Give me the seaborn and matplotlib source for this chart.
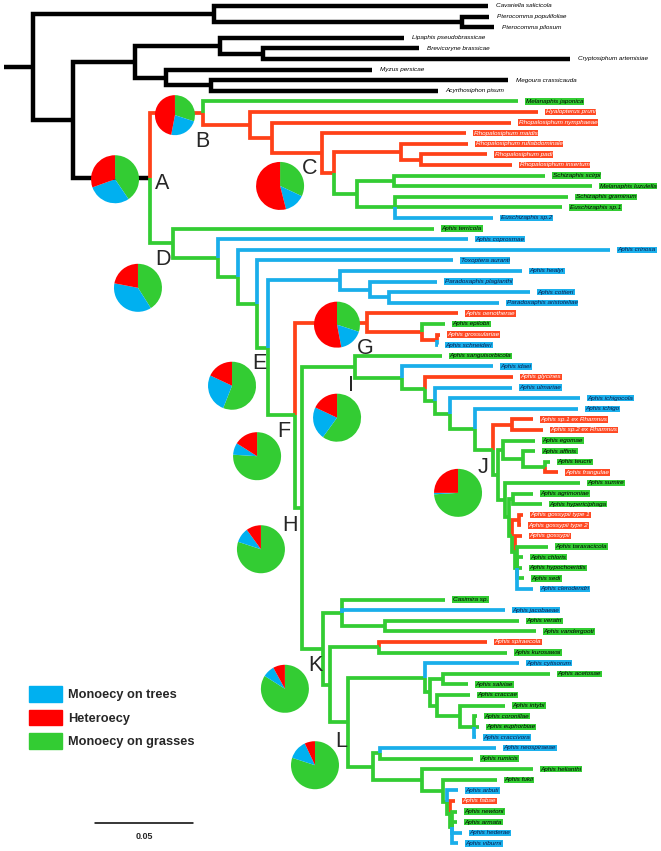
import matplotlib
matplotlib.use("Agg")
import matplotlib.pyplot as plt
from matplotlib.patches import Patch
import pandas as pd
import seaborn as sns

sns.set_theme(style="white")
plt.rcParams["font.family"] = ["Liberation Sans", "DejaVu Sans"]

# ---- tips, top to bottom ----
tip_names = [
    "Cavariella salicicola", "Pterocomma populifoliae", "Pterocomma pilosum",
    "Lipaphis pseudobrassicae", "Brevicoryne brassicae", "Cryptosiphum artemisiae",
    "Myzus persicae", "Megoura crassicauda", "Acyrthosiphon pisum",
    "Melanaphis japonica", "Hyalopterus pruni", "Rhopalosiphum nymphaeae",
    "Rhopalosiphum maidis", "Rhopalosiphum rufiabdominale", "Rhopalosiphum padi",
    "Rhopalosiphum insertum", "Schizaphis scirpi", "Melanaphis luzulella",
    "Schizaphis graminum", "Euschizaphis sp.1", "Euschizaphis sp.2",
    "Aphis terricola", "Aphis coprosmae", "Aphis crinosa", "Toxoptera auranti",
    "Aphis healyi", "Paradoxaphis plagianthi", "Aphis cottieri", "Paradoxaphis aristoteliae",
    "Aphis oenotherae", "Aphis epilobii", "Aphis grossulariae", "Aphis schneideri",
    "Aphis sanguisorbicola", "Aphis idaei", "Aphis glycines", "Aphis ulmariae",
    "Aphis ichigocola", "Aphis ichigo", "Aphis sp.1 ex Rhamnus", "Aphis sp.2 ex Rhamnus",
    "Aphis egomae", "Aphis affinis", "Aphis teucrii", "Aphis frangulae", "Aphis sumire",
    "Aphis agrimoniae", "Aphis hypericiphaga", "Aphis gossypii type 1", "Aphis gossypii type 2",
    "Aphis gossypii", "Aphis taraxacicola", "Aphis chloris", "Aphis hypochoeridis", "Aphis sedi",
    "Aphis clerodendri", "Casimira sp.", "Aphis jacobaeae", "Aphis veratri", "Aphis vandergooti",
    "Aphis spiraecola", "Aphis kurosawai", "Aphis cytisorum", "Aphis acetosae", "Aphis salviae",
    "Aphis craccae", "Aphis intybi", "Aphis coronillae", "Aphis euphorbiae", "Aphis craccivora",
    "Aphis neospiraeae", "Aphis rumicis", "Aphis helianthi", "Aphis fukii", "Aphis arbuti",
    "Aphis fabae", "Aphis newtoni", "Aphis armata", "Aphis hederae", "Aphis viburni",
]

# distance from root (units of 0.001 subst./site)
tip_depth = [
    246.4, 246.9, 249.5, 203.6, 211.2, 288.3, 187.2, 256.6, 220.9,
    261.7, 271.9, 258.2, 235.2, 236.2, 245.9, 258.7, 275.5, 299.5, 287.2, 284.2, 249.0,
    218.9, 236.2, 308.7, 228.6, 263.8, 220.4, 267.9, 252.0,
    231.1, 224.5, 221.9, 220.9,
    223.0, 249.0, 259.2, 258.7, 293.4, 292.3, 269.4, 274.5,
    270.4, 270.4, 278.1, 282.1, 293.4,
    269.4, 274.0, 264.3, 263.3, 263.8,
    277.0, 264.3, 263.8, 264.8, 269.4,
    224.5, 255.1, 262.2, 270.9,
    245.9, 256.1, 262.2, 278.1, 236.2,
    237.2, 255.1, 240.8, 241.8, 240.3,
    250.5, 238.8, 269.4, 251.0, 231.1,
    229.6, 230.6, 230.6, 233.2, 231.1,
]

# k = outgroup, g = monoecy on grasses, b = monoecy on trees, r = heteroecy
tip_state = (
    ["k"] * 9
    + ["g", "r", "r", "r", "r", "r", "r", "g", "g", "g", "g", "b"]
    + ["g", "b", "b", "b", "b", "b", "b", "b"]
    + ["r", "g", "r", "b"]
    + ["g", "b", "r", "b", "b", "b", "r", "r"]
    + ["g", "g", "g", "r", "g"]
    + ["g", "g", "r", "r", "r"]
    + ["g", "g", "g", "g", "b"]
    + ["g", "b", "g", "g"]
    + ["r", "g", "b", "g", "g"]
    + ["g", "g", "g", "g", "b"]
    + ["b", "g", "g", "g", "b"]
    + ["r", "g", "g", "b", "b"]
)

# ---- internal nodes ----
node_names = ["root", "OG1", "Ptero", "N73", "N135", "LBC", "BC", "MMA", "MA",
              "A", "B", "R1", "R2", "R3", "C", "R4", "R5", "S1", "S2", "S3",
              "D", "D1", "D2", "D3", "E", "P1", "P2", "P3", "F", "G", "G1", "G2",
              "H", "I", "I1", "I2", "I3", "I4", "I5", "J", "J1", "J2", "J3", "J4", "J5",
              "J6", "J7", "J8", "J9", "J10", "J11", "J12",
              "K", "K1", "K2", "K3", "K4", "L", "L1", "L2", "L3", "L4", "L5", "L5b",
              "L6", "L7", "L8", "L9", "L10", "L11", "L12"]
node_depth = [14.3, 106.6, 233.2, 34.7, 66.3, 109.7, 131.6, 82.1, 105.1,
              74.0, 101.0, 125.0, 136.2, 161.7, 167.9, 202.0, 212.2, 179.6, 198.5, 199.0,
              85.7, 108.7, 118.9, 128.6, 134.2, 170.9, 186.2, 195.9, 148.0, 184.7, 212.8, 220.4,
              151.5, 178.6, 202.6, 214.3, 219.4, 227.0, 239.8, 249.0, 258.7, 251.5, 254.1, 264.3, 275.5,
              255.1, 257.1, 259.2, 258.7, 262.2, 260.2, 261.2,
              162.2, 171.9, 193.9, 165.8, 190.8, 175.0, 214.3, 216.8, 223.5, 220.4, 232.1, 239.3,
              187.8, 191.3, 212.8, 223.5, 225.5, 227.0, 228.1]
node_children = [
    ["OG1", "N73"], ["Cavariella salicicola", "Ptero"],
    ["Pterocomma populifoliae", "Pterocomma pilosum"], ["N135", "A"], ["LBC", "MMA"],
    ["Lipaphis pseudobrassicae", "BC"], ["Brevicoryne brassicae", "Cryptosiphum artemisiae"],
    ["Myzus persicae", "MA"], ["Megoura crassicauda", "Acyrthosiphon pisum"],
    ["B", "D"], ["Melanaphis japonica", "R1"], ["Hyalopterus pruni", "R2"],
    ["Rhopalosiphum nymphaeae", "R3"], ["Rhopalosiphum maidis", "C"], ["R4", "S1"],
    ["Rhopalosiphum rufiabdominale", "R5"], ["Rhopalosiphum padi", "Rhopalosiphum insertum"],
    ["S2", "S3"], ["Schizaphis scirpi", "Melanaphis luzulella"],
    ["Schizaphis graminum", "Euschizaphis sp.1", "Euschizaphis sp.2"],
    ["Aphis terricola", "D1"], ["Aphis coprosmae", "D2"], ["Aphis crinosa", "D3"],
    ["Toxoptera auranti", "E"], ["P1", "F"], ["Aphis healyi", "P2"],
    ["Paradoxaphis plagianthi", "P3"], ["Aphis cottieri", "Paradoxaphis aristoteliae"],
    ["G", "H"], ["Aphis oenotherae", "G1"], ["Aphis epilobii", "G2"],
    ["Aphis grossulariae", "Aphis schneideri"],
    ["I", "K"], ["Aphis sanguisorbicola", "I1"], ["Aphis idaei", "I2"], ["Aphis glycines", "I3"],
    ["Aphis ulmariae", "I4"], ["Aphis ichigocola", "I5"], ["Aphis ichigo", "J"], ["J1", "J2"],
    ["Aphis sp.1 ex Rhamnus", "Aphis sp.2 ex Rhamnus"], ["J3", "J6"], ["Aphis egomae", "J4"],
    ["Aphis affinis", "J5"], ["Aphis teucrii", "Aphis frangulae"],
    ["Aphis sumire", "J7"], ["J8", "J9"], ["Aphis agrimoniae", "Aphis hypericiphaga"],
    ["J10", "J11"], ["Aphis gossypii type 1", "Aphis gossypii type 2"], ["Aphis gossypii", "J12"],
    ["Aphis taraxacicola", "Aphis chloris", "Aphis hypochoeridis", "Aphis sedi", "Aphis clerodendri"],
    ["K1", "K3"], ["Casimira sp.", "Aphis jacobaeae", "K2"], ["Aphis veratri", "Aphis vandergooti"],
    ["K4", "L"], ["Aphis spiraecola", "Aphis kurosawai"], ["L1", "L6"], ["Aphis cytisorum", "L2"],
    ["L3", "L4"], ["Aphis acetosae", "Aphis salviae"], ["Aphis craccae", "L5"],
    ["Aphis intybi", "L5b"], ["Aphis coronillae", "Aphis euphorbiae", "Aphis craccivora"],
    ["L7", "L8"], ["Aphis neospiraeae", "Aphis rumicis"], ["Aphis helianthi", "L9"],
    ["Aphis fukii", "L10"], ["Aphis arbuti", "L11"], ["Aphis fabae", "L12"],
    ["Aphis newtoni", "Aphis armata", "Aphis hederae", "Aphis viburni"],
]
node_state = ["k"] * 10 + ["r"] * 7 + ["g"] * 3 + ["g"] * 5 + ["b"] * 3 + ["g"] + ["r"] * 3 \
    + ["g"] * 8 + ["r"] + ["g"] * 4 + ["g"] * 4 + ["r"] + ["g"] * 2 \
    + ["g"] * 19
root_stub_depth = -0.5

# ancestral state pies at labelled nodes
pie_nodes = ["A", "B", "C", "D", "E", "F", "G", "H", "I", "J", "K", "L"]
pie_grasses = [40.5, 30, 32, 41, 56, 76, 30, 80, 60, 74, 84, 80]
pie_trees = [29, 23, 14, 37, 26, 8, 17, 10, 22, 1, 8, 13]
pie_hetero = [30.5, 47, 54, 22, 18, 16, 53, 10, 18, 25, 8, 7]

scale_value = 50  # = 0.05

# layout: pie offset from node (px), radius (px), letter offset (px)
pie_layout = {
    "A": (-35, 1, 24, 12, 5), "B": (-28, 2, 20, -1, 28), "C": (-54, 13, 24, -24, -4),
    "D": (-35, 44.5, 24, -10, 16.5), "E": (-36, 38, 24, -9, 16), "F": (-38, 41, 24, -11, 16),
    "G": (-30, 2, 23, -2, 26), "H": (-41, 41.5, 24, -12, 17.5), "I": (-18, 51, 24, -4, 19),
    "J": (-35, 43, 24, -10, 18), "K": (-38, 40, 24, -8, 17), "L": (-33, 43, 24, -7, 19),
}

branch_col = {"k": "black", "g": "#33CC33", "r": "#FF4118", "b": "#1AAEEA"}
label_bg = {"g": "#33CC33", "r": "#FF4A24", "b": "#1CB0EC"}
label_fg = {"k": "black", "g": "black", "r": "white", "b": "#0A1A4A"}
pie_col = {"g": "#33CC33", "b": "#00B0F0", "r": "#FF0000"}

# ---- tree layout ----
pos = {n: (d, float(i)) for i, (n, d) in enumerate(zip(tip_names, tip_depth))}
children = dict(zip(node_names, node_children))
depth = dict(zip(node_names, node_depth))
state_of = dict(zip(tip_names, tip_state))
state_of.update(zip(node_names, node_state))


def place(n):
    if n not in pos:
        ys = [place(c)[1] for c in children[n]]
        pos[n] = (depth[n], (ys[0] + ys[-1]) / 2)
    return pos[n]


place("root")

rows = []
rx, ry = pos["root"]
rows += [(0, root_stub_depth, ry, "k"), (0, rx, ry, "k")]
seg = 0
for n, kids in children.items():
    px, py = pos[n]
    for c in kids:
        seg += 1
        cx, cy = pos[c]
        for x, y in [(px, py), (px, cy), (cx, cy)]:
            rows.append((seg, x, y, state_of[c]))
df = pd.DataFrame(rows, columns=["seg", "x", "y", "state"])

fig = plt.figure(figsize=(6.61, 8.51), dpi=100)
ax = fig.add_axes([0, 0, 1, 1])
ax.set_xlim(-2.55, 334.7)
ax.set_ylim(79.72, -0.566)

black = df[df.state == "k"]
colored = df[df.state != "k"]
sns.lineplot(data=black, x="x", y="y", units="seg", estimator=None, sort=False,
             color="black", lw=3.2, ax=ax, solid_joinstyle="miter", solid_capstyle="butt")
sns.lineplot(data=colored, x="x", y="y", units="seg", estimator=None, sort=False,
             hue="state", palette={k: branch_col[k] for k in colored.state.unique()},
             lw=2.7, legend=False, ax=ax, solid_joinstyle="miter", solid_capstyle="butt")
ax.set_xlim(-2.55, 334.7)
ax.set_ylim(79.72, -0.566)

for n, s in zip(tip_names, tip_state):
    box = None if s == "k" else dict(boxstyle="square,pad=0.12", fc=label_bg[s], ec="none")
    ax.annotate(n, pos[n], xytext=(5.5, 0), textcoords="offset points", va="center",
                ha="left", fontsize=4.6, style="italic", color=label_fg[s], bbox=box)

# scale bar
ax.plot([46, 46 + scale_value], [77.1, 77.1], color="black", lw=1.1)
ax.text(46 + scale_value / 2, 78.35, f"{scale_value / 1000:.2f}", ha="center", va="center",
        fontsize=6.5, fontweight="bold")
ax.axis("off")

# ---- pies and node letters ----
pax = fig.add_axes([0, 0, 1, 1])
pax.set_xlim(0, 661)
pax.set_ylim(851, 0)
centers = {}
for name in pie_nodes:
    disp = ax.transData.transform(pos[name])
    centers[name] = pax.transData.inverted().transform(disp)

for name, g, t, h in zip(pie_nodes, pie_grasses, pie_trees, pie_hetero):
    dx, dy, r, lx, ly = pie_layout[name]
    nx, ny = centers[name]
    pax.pie([g, t, h], colors=[pie_col["g"], pie_col["b"], pie_col["r"]],
            startangle=-90, counterclock=True, center=(nx + dx, ny + dy), radius=r,
            frame=True, wedgeprops=dict(linewidth=0))
    pax.text(nx + lx, ny + ly, name, ha="center", va="center", fontsize=15.5,
             family=["Liberation Sans Narrow", "Liberation Sans"])

pax.set_xlim(0, 661)
pax.set_ylim(851, 0)
pax.set_aspect("auto")
pax.axis("off")

handles = [Patch(color=pie_col["b"], label="Monoecy on trees"),
           Patch(color=pie_col["r"], label="Heteroecy"),
           Patch(color=pie_col["g"], label="Monoecy on grasses")]
pax.legend(handles=handles, loc="upper left", bbox_to_anchor=(29 / 661, 1 - 686 / 851),
           bbox_transform=fig.transFigure, frameon=False, borderpad=0, borderaxespad=0,
           handlelength=2.6, handleheight=1.5, handletextpad=0.45, labelspacing=0.62,
           prop=dict(weight="bold", size=9.2))

fig.savefig("out.png", dpi=100, facecolor="white")
